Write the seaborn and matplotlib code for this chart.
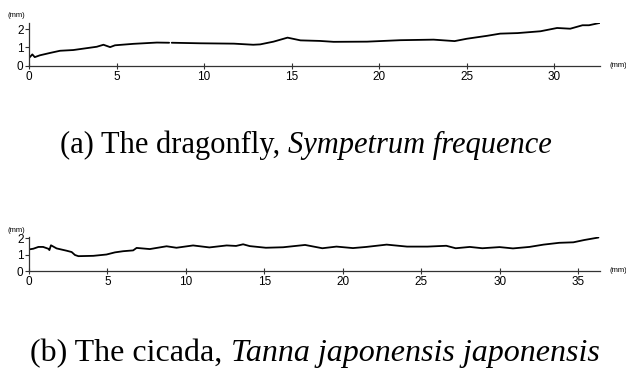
import numpy as np
import pandas as pd
import matplotlib
matplotlib.use("Agg")
import matplotlib.pyplot as plt
import seaborn as sns

# ---- data ----
dragon_x = [0.0, 0.19, 0.33, 0.62, 1.2, 1.77, 2.53, 3.2, 3.87, 4.25, 4.63, 4.91, 5.96, 7.3, 8.0,
            8.05, 8.1, 8.15, 9.77, 11.7, 12.8, 13.2, 13.96, 14.76, 15.5, 16.6, 17.39, 19.3, 21.2,
            23.1, 24.3, 25.0, 26.15, 26.9, 27.9, 29.2, 30.15, 30.9, 31.6, 31.97, 32.6]
dragon_y = [0.42, 0.62, 0.47, 0.57, 0.7, 0.82, 0.86, 0.95, 1.04, 1.15, 1.02, 1.12, 1.2, 1.27, 1.26,
            np.nan, np.nan, 1.26, 1.23, 1.21, 1.15, 1.17, 1.32, 1.54, 1.39, 1.36, 1.31, 1.32, 1.4,
            1.43, 1.35, 1.48, 1.64, 1.76, 1.79, 1.89, 2.07, 2.03, 2.22, 2.22, 2.35]

cicada_x = [0.0, 0.27, 0.6, 0.9, 1.23, 1.3, 1.4, 1.76, 2.4, 2.72, 2.93, 3.15, 4.1, 4.94, 5.48,
            6.0, 6.64, 6.86, 7.7, 8.77, 9.4, 10.46, 11.5, 12.6, 13.2, 13.65, 14.07, 15.1, 16.2,
            17.6, 18.7, 19.6, 20.65, 21.5, 22.8, 24.1, 25.4, 26.6, 27.2, 28.1, 28.9, 30.0, 30.85,
            31.9, 32.8, 33.8, 34.7, 35.4, 36.3]
cicada_y = [1.31, 1.35, 1.46, 1.46, 1.35, 1.27, 1.56, 1.37, 1.23, 1.15, 0.97, 0.9, 0.92, 1.0, 1.13,
            1.2, 1.25, 1.4, 1.33, 1.5, 1.41, 1.55, 1.43, 1.55, 1.52, 1.62, 1.51, 1.41, 1.44,
            1.58, 1.38, 1.48, 1.39, 1.46, 1.6, 1.48, 1.48, 1.53, 1.38, 1.46, 1.38, 1.45, 1.37,
            1.46, 1.6, 1.71, 1.74, 1.88, 2.03]

top_xticks = [0, 5, 10, 15, 20, 25, 30]
bot_xticks = [0, 5, 10, 15, 20, 25, 30, 35]
yticks = [0, 1, 2]
unit = "(mm)"
cap_a = ("(a) The dragonfly, ", "Sympetrum frequence")
cap_b = ("(b) The cicada, ", "Tanna japonensis japonensis")

sns.set_theme(style="white")
plt.rcParams["font.family"] = ["Liberation Sans", "DejaVu Sans"]
plt.rcParams["text.color"] = "black"

W, H = 626, 372
fig = plt.figure(figsize=(W / 100, H / 100), dpi=100)
fig.patch.set_facecolor("white")

def px_axes(l, r, b_px, t_px):
    return fig.add_axes([l / W, 1 - b_px / H, (r - l) / W, (b_px - t_px) / H])

ax1 = px_axes(29, 600, 65.7, 22.7)
ax2 = px_axes(29, 600, 271, 237.2)

df1 = pd.DataFrame({"x": dragon_x, "y": dragon_y})
df2 = pd.DataFrame({"x": cicada_x, "y": cicada_y})

for ax, df, xt, xmax, ymax in [(ax1, df1, top_xticks, 32.6, 2.36),
                               (ax2, df2, bot_xticks, 36.4, 2.05)]:
    ax.plot(df["x"], df["y"], color="black", lw=1.3, solid_joinstyle="round")
    ax.set_facecolor("white")
    ax.set_xlim(0, xmax)
    ax.set_ylim(0, ymax)
    ax.set_xticks(xt)
    ax.set_yticks(yticks)
    ax.set_xticklabels([str(v) for v in xt])
    ax.set_yticklabels([str(v) for v in yticks])
    for s in ["top", "right"]:
        ax.spines[s].set_visible(False)
    for s in ["left", "bottom"]:
        ax.spines[s].set_visible(True)
        ax.spines[s].set_color("#333333")
        ax.spines[s].set_linewidth(0.9)
    ax.tick_params(axis="x", direction="inout", length=4, width=0.8, colors="#333333",
                   labelsize=8.5, pad=1.5, labelcolor="black", bottom=True)
    ax.tick_params(axis="y", direction="out", length=3, width=0.8, colors="#333333",
                   labelsize=8.5, pad=1, labelcolor="black", left=True)
    ax.grid(False)
    ax.text(-0.038, 1.08, unit, transform=ax.transAxes, fontsize=5.5, ha="left", va="bottom")
    ax.text(1.017, 0.0, unit, transform=ax.transAxes, fontsize=5.5, ha="left", va="center")

serif = "Liberation Serif"
renderer = fig.canvas.get_renderer()

def caption(parts, cx, baseline_px, fs):
    y = 1 - baseline_px / H
    t1 = fig.text(0, y, parts[0], fontsize=fs, family=serif, ha="left", va="baseline",
                  color="black")
    t2 = fig.text(0, y, parts[1], fontsize=fs, family=serif, style="italic",
                  ha="left", va="baseline", color="black")
    w1 = t1.get_window_extent(renderer).width
    w2 = t2.get_window_extent(renderer).width
    left = cx - (w1 + w2) / 2
    t1.set_x(left / W)
    t2.set_x((left + w1) / W)

caption(cap_a, 306, 153.5, 22)
caption(cap_b, 315, 361, 23)

fig.savefig("out.png", dpi=100, facecolor="white")
